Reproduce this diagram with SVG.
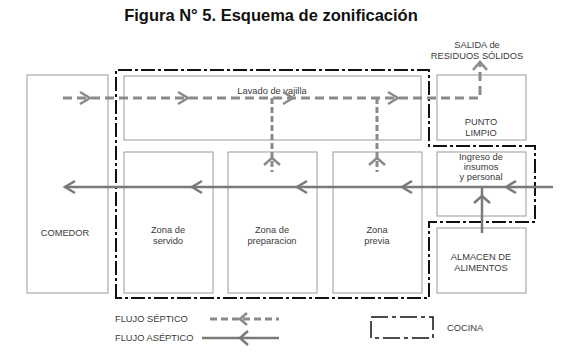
<svg xmlns="http://www.w3.org/2000/svg" width="562" height="357" viewBox="0 0 562 357">
<defs>
<style>
text{font-family:"Liberation Sans",Arial,sans-serif;fill:#3a3a3a;text-anchor:middle}
.t{font-size:9.3px}
.title{font-size:16.5px;font-weight:bold;fill:#111}
.box{fill:#fff;stroke:#9a9a9a;stroke-width:1}
.kit{fill:none;stroke:#111;stroke-width:2;stroke-dasharray:14 3 3 3}
.sep{fill:none;stroke:#8a8a8a;stroke-width:3;stroke-dasharray:9 5}
.sepv{fill:none;stroke:#8a8a8a;stroke-width:3;stroke-dasharray:6 3}
.ase{fill:none;stroke:#7a7a7a;stroke-width:2.5}
.chev{fill:none;stroke:#8a8a8a;stroke-width:2.5;stroke-linejoin:miter}
</style>
</defs>
<rect width="562" height="357" fill="#fff"/>
<text class="title" x="271" y="21">Figura N° 5. Esquema de zonificación</text>

<g id="comedor"><rect class="box" x="27" y="75" width="81" height="218"/><text class="t" x="65" y="236">COMEDOR</text></g>
<g id="lavado"><rect class="box" x="124" y="76" width="297" height="64"/><text class="t" x="272" y="94">Lavado de vajilla</text></g>
<g id="servido"><rect class="box" x="124" y="152" width="89" height="141"/><text class="t" x="168" y="233">Zona de</text><text class="t" x="168" y="244">servido</text></g>
<g id="preparacion"><rect class="box" x="228" y="152" width="89" height="141"/><text class="t" x="272" y="233">Zona de</text><text class="t" x="272" y="244">preparacion</text></g>
<g id="previa"><rect class="box" x="333" y="152" width="89" height="141"/><text class="t" x="377" y="233">Zona</text><text class="t" x="377" y="244">previa</text></g>
<g id="punto"><rect class="box" x="437" y="75" width="89" height="65"/><text class="t" x="481" y="125">PUNTO</text><text class="t" x="481" y="136">LIMPIO</text></g>
<g id="ingreso"><rect class="box" x="437" y="152" width="89" height="64"/><text class="t" x="481" y="160">Ingreso de</text><text class="t" x="481" y="170">insumos</text><text class="t" x="481" y="180">y personal</text></g>
<g id="almacen"><rect class="box" x="437" y="228" width="89" height="65"/><text class="t" x="481" y="260">ALMACEN DE</text><text class="t" x="481" y="271">ALIMENTOS</text></g>
<g id="salida"><text class="t" x="477" y="48">SALIDA de</text><text class="t" x="477" y="59">RESIDUOS SÓLIDOS</text></g>

<g id="cocina"><path class="kit" d="M116,298 V70 H429 V146 H535 V222 H429 V298 Z"/></g>

<g id="connectors">
<path class="sep" d="M63,98 H480 V62"/>
<path class="sepv" d="M272,98 V172"/>
<path class="sepv" d="M377,98 V172"/>
<g class="chev">
<polyline points="80,92 90,98 80,104"/>
<polyline points="178,92 188,98 178,104"/>
<polyline points="283,92 293,98 283,104"/>
<polyline points="388,92 398,98 388,104"/>
<polyline points="473,70 480,62 487,70"/>
<polyline points="264,165 272,158 280,165"/>
<polyline points="369,165 377,158 385,165"/>
</g>
<path class="ase" d="M553,187 H65"/>
<path class="ase" d="M482,233 V187"/>
<g class="chev" style="stroke:#7a7a7a">
<polyline points="75,181 65,187 75,193"/>
<polyline points="202,181 192,187 202,193"/>
<polyline points="307,181 297,187 307,193"/>
<polyline points="412,181 402,187 412,193"/>
<polyline points="516,181 506,187 516,193"/>
<polyline points="474,203 482,196 490,203"/>
</g>
</g>

<g id="legend">
<text class="t" x="115" y="322" style="text-anchor:start">FLUJO SÉPTICO</text>
<text class="t" x="115" y="341" style="text-anchor:start">FLUJO ASÉPTICO</text>
<path class="sep" d="M210,319 H279" style="stroke-dasharray:7 4"/>
<polyline class="chev" points="247,313 240,319 247,325"/>
<path class="ase" d="M202,338 H279"/>
<polyline class="chev" style="stroke:#7a7a7a" points="248,331 240,338 248,345"/>
<path d="M371,317 H433 V338 H371 Z" fill="none" stroke="#111" stroke-width="1.5" stroke-dasharray="17 4 4 4"/>
<text class="t" x="447" y="331" style="text-anchor:start">COCINA</text>
</g>
</svg>
